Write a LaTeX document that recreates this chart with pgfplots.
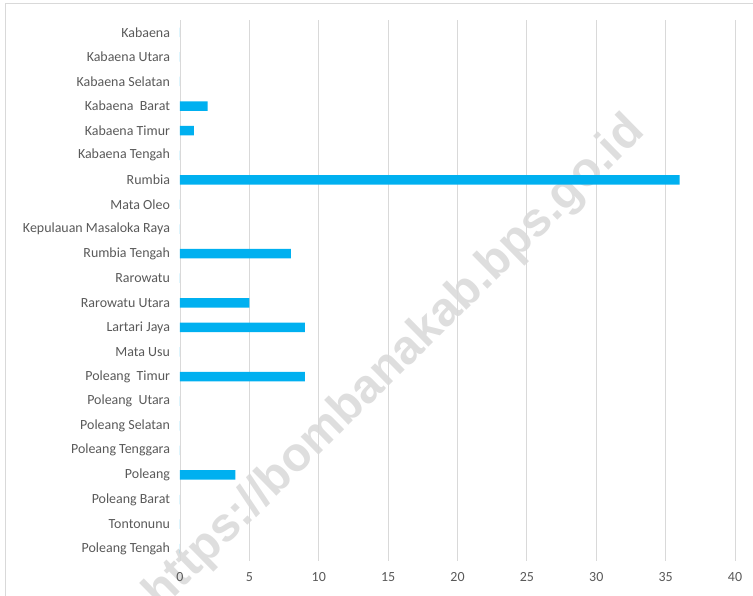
\documentclass[border=0pt]{standalone}
\usepackage{pgfplots}
\pgfplotsset{compat=1.18}
\usepackage{fontspec}
\setmainfont{Carlito}
\newfontfamily\wmfont{Liberation Sans}
\definecolor{barblue}{HTML}{00B0F0}
\definecolor{txtgray}{HTML}{595959}
\definecolor{gridgray}{HTML}{D9D9D9}
\definecolor{wmgray}{HTML}{DEDEDE}
\begin{document}
\begin{tikzpicture}
% watermark, under the chart
\node[rotate=44.5, text=wmgray, font=\wmfont\bfseries\fontsize{48}{48}\selectfont]
  at (215bp,198bp) {https://bombanakab.bps.go.id};
% chart area border (only left and top are visible)
\draw[gridgray, line width=0.8bp] (-175bp,-35bp) -- (-175bp,558bp) -- (580bp,558bp);
\begin{axis}[
    scale only axis,
    width=555bp, height=541bp,
    xmin=0, xmax=40,
    ymin=-0.5, ymax=21.5,
    y dir=reverse,
    xtick={0,5,...,40},
    ytick={0,...,21},
    yticklabels={Kabaena, Kabaena Utara, Kabaena Selatan, Kabaena\ \ Barat,
      Kabaena Timur, Kabaena Tengah, Rumbia, Mata Oleo, Kepulauan Masaloka Raya,
      Rumbia Tengah, Rarowatu, Rarowatu Utara, Lartari Jaya, Mata Usu,
      Poleang\ \ Timur, Poleang\ \ Utara, Poleang Selatan, Poleang Tenggara, Poleang,
      Poleang Barat, Tontonunu, Poleang Tengah},
    axis line style={draw=none},
    major tick length=0pt,
    xmajorgrids,
    grid style={gridgray, line width=0.9bp},
    tick label style={text=txtgray},
    xticklabel style={font=\fontsize{14}{16}\selectfont, yshift=-8bp},
    yticklabel style={font=\fontsize{14}{16}\selectfont, xshift=-6.5bp},
    /pgf/number format/assume math mode=true,
    clip=false,
]
\addplot[xbar, bar width=9.5bp, fill=barblue, draw=none] coordinates {
  (0,0) (0,1) (0,2) (2,3) (1,4) (0,5) (36,6) (0,7) (0,8) (8,9) (0,10)
  (5,11) (9,12) (0,13) (9,14) (0,15) (0,16) (0,17) (4,18) (0,19) (0,20) (0,21)
};
\end{axis}
\pgfresetboundingbox
\path[use as bounding box] (-180bp,-35bp) rectangle (573bp,561bp);
\end{tikzpicture}
\end{document}
